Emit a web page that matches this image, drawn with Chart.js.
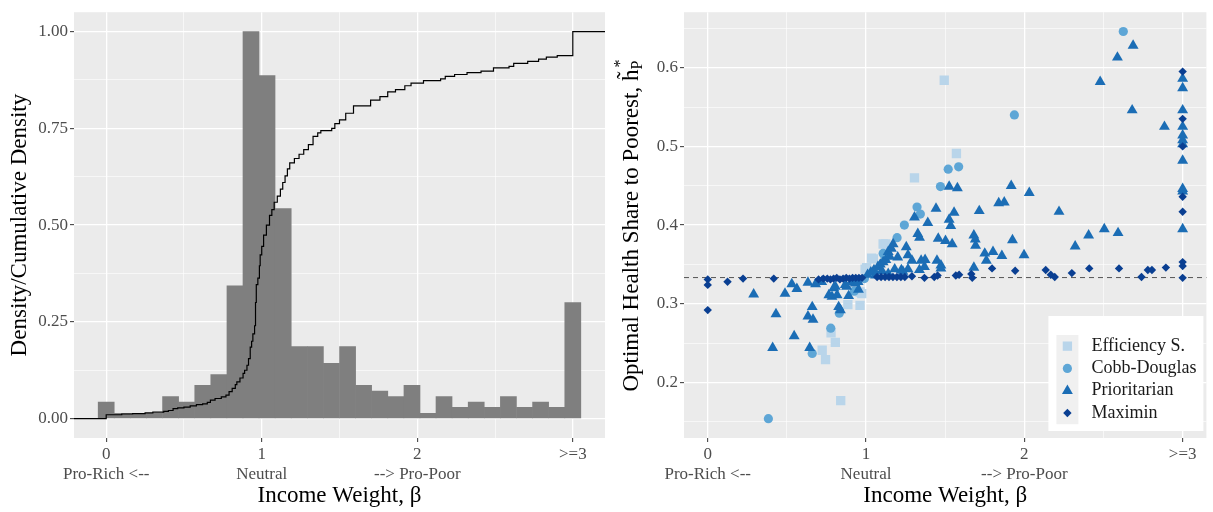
<!DOCTYPE html>
<html>
<head>
<meta charset="utf-8">
<script src="https://cdn.jsdelivr.net/npm/chart.js@4.4.1/dist/chart.umd.min.js"></script>
<style>
  html, body { margin: 0; padding: 0; background: #fff; }
  #wrap { position: relative; width: 1213px; height: 512px; }
  #left { position: absolute; left: 0; top: 0; width: 605px; height: 512px; }
  #right { position: absolute; left: 605px; top: 0; width: 608px; height: 512px; }
</style>
</head>
<body>
<div id="wrap">
  <div id="left"><canvas id="histChart"></canvas></div>
  <div id="right"><canvas id="shareChart"></canvas></div>
</div>
<script>
// --- shared axis ticks (income weight beta) ---
const betaTicks = [0, 1, 2, 3];
const betaLabels = [['0', 'Pro-Rich <--'], ['1', 'Neutral'], ['2', '--> Pro-Poor'], ['>=3']];
const betaMinor = [0.5, 1.5, 2.5];

// --- left panel: histogram (scaled so the tallest bin = 1) + cumulative density ---
const binCenters = [0, 0.103, 0.207, 0.310, 0.414, 0.517, 0.621, 0.724, 0.828, 0.931,
  1.034, 1.138, 1.241, 1.345, 1.448, 1.552, 1.655, 1.759, 1.862, 1.966,
  2.069, 2.172, 2.276, 2.379, 2.483, 2.586, 2.690, 2.793, 2.897, 3.000];
const binDensity = [0.043, 0.014, 0.014, 0.014, 0.057, 0.043, 0.086, 0.114, 0.343, 1.000,
  0.886, 0.543, 0.186, 0.186, 0.143, 0.186, 0.086, 0.071, 0.057, 0.086,
  0.014, 0.057, 0.029, 0.043, 0.029, 0.057, 0.029, 0.043, 0.029, 0.300];
const ecdfX = [-0.5, 0, 0.10, 0.17, 0.25, 0.30, 0.37, 0.40, 0.43, 0.46, 0.50, 0.54, 0.58, 0.62, 0.65,
  0.67, 0.70, 0.74, 0.77, 0.79, 0.81, 0.83, 0.84, 0.86, 0.88, 0.89, 0.905, 0.915, 0.926, 0.935,
  0.943, 0.954, 0.960, 0.965, 0.975, 0.985, 0.99, 1.0, 1.012, 1.03, 1.05, 1.065, 1.08, 1.10, 1.12,
  1.135, 1.15, 1.165, 1.18, 1.21, 1.24, 1.27, 1.30, 1.33, 1.36, 1.38, 1.45, 1.47, 1.50, 1.54,
  1.59, 1.70, 1.76, 1.81, 1.86, 1.92, 1.96, 2.04, 2.15, 2.18, 2.24, 2.32, 2.41, 2.49, 2.59,
  2.62, 2.71, 2.78, 2.83, 2.90, 3.0, 3.5];
const ecdfY = [0, 0.010, 0.012, 0.013, 0.015, 0.017, 0.019, 0.021, 0.026, 0.028, 0.030, 0.033, 0.036, 0.038, 0.042,
  0.048, 0.052, 0.056, 0.061, 0.070, 0.078, 0.088, 0.095, 0.105, 0.117, 0.125, 0.138, 0.155, 0.185, 0.200,
  0.219, 0.240, 0.300, 0.346, 0.363, 0.395, 0.423, 0.445, 0.474, 0.500, 0.525, 0.540, 0.559, 0.575, 0.593,
  0.610, 0.627, 0.645, 0.661, 0.672, 0.683, 0.695, 0.708, 0.729, 0.738, 0.744, 0.750, 0.762, 0.772, 0.789,
  0.808, 0.823, 0.832, 0.844, 0.850, 0.860, 0.867, 0.873, 0.878, 0.884, 0.889, 0.894, 0.898, 0.906, 0.910,
  0.918, 0.923, 0.929, 0.934, 0.938, 1.0, 1.0];
const densTicks = [0, 0.25, 0.5, 0.75, 1];
const densLabels = ['0.00', '0.25', '0.50', '0.75', '1.00'];
const densMinor = [0.125, 0.375, 0.625, 0.875];

// --- right panel: optimal share to poorest by income weight ---
const efficiencyPts = [[0.840,0.177],[0.723,0.241],[0.744,0.229],[0.779,0.263],[0.806,0.251],[0.885,0.299],
  [0.962,0.298],[0.962,0.315],[0.973,0.313],[0.994,0.344],[1.004,0.346],[1.035,0.358],[1.046,0.357],
  [1.108,0.376],[1.125,0.376],[1.306,0.460],[1.494,0.584],[1.571,0.491]];
const cobbDouglasPts = [[0.383,0.154],[0.660,0.237],[0.777,0.269],[0.831,0.288],[0.925,0.316],[0.990,0.332],
  [1.108,0.364],[1.115,0.362],[1.196,0.384],[1.242,0.400],[1.322,0.423],[1.343,0.414],[1.470,0.449],
  [1.519,0.471],[1.585,0.474],[1.937,0.540],[2.625,0.646]];
const prioritarianPts = [[0.290,0.312],[0.431,0.287],[0.410,0.244],[0.488,0.313],[0.531,0.325],[0.563,0.319],
  [0.546,0.259],[0.633,0.327],[0.681,0.325],[0.660,0.296],[0.633,0.284],[0.665,0.280],[0.644,0.244],
  [0.720,0.328],[0.765,0.311],[0.785,0.309],[0.796,0.320],[0.806,0.322],[0.817,0.311],[0.827,0.296],
  [0.838,0.292],[0.869,0.324],[0.877,0.322],[0.890,0.310],[0.910,0.328],[0.931,0.326],[0.950,0.328],
  [0.952,0.318],[1.010,0.337],[1.030,0.340],[1.050,0.343],[1.060,0.336],[1.075,0.347],[1.090,0.350],
  [1.100,0.342],[1.108,0.353],[1.125,0.356],[1.140,0.366],[1.140,0.338],[1.150,0.360],[1.160,0.370],
  [1.171,0.376],[1.181,0.344],[1.200,0.359],[1.223,0.343],[1.233,0.341],[1.254,0.372],[1.265,0.362],
  [1.265,0.344],[1.290,0.355],[1.306,0.410],[1.327,0.389],[1.338,0.384],[1.337,0.343],[1.348,0.355],
  [1.369,0.347],[1.373,0.356],[1.390,0.403],[1.442,0.421],[1.448,0.355],[1.456,0.383],[1.473,0.349],
  [1.473,0.345],[1.502,0.380],[1.525,0.449],[1.525,0.407],[1.535,0.399],[1.544,0.376],[1.556,0.416],
  [1.577,0.447],[1.681,0.387],[1.681,0.346],[1.690,0.382],[1.692,0.374],[1.715,0.418],[1.750,0.364],
  [1.760,0.355],[1.802,0.366],[1.838,0.428],[1.858,0.361],[1.873,0.429],[1.917,0.450],[1.925,0.381],
  [1.998,0.362],[2.031,0.441],[2.219,0.417],[2.321,0.373],[2.406,0.387],[2.505,0.395],[2.592,0.390],
  [2.479,0.582],[2.588,0.613],[2.687,0.628],[2.681,0.546],[2.885,0.525],
  [3,0.586],[3,0.574],[3,0.546],[3,0.525],[3,0.514],[3,0.508],[3,0.503],[3,0.482],[3,0.446],[3,0.443],[3,0.395]];
const maximinPts = [[0,0.331],[0,0.324],[0,0.292],[0.125,0.328],[0.223,0.332],[0.417,0.332],
  [0.700,0.331],[0.730,0.332],[0.755,0.332],[0.775,0.331],[0.795,0.332],[0.815,0.333],[0.835,0.331],
  [0.855,0.332],[0.875,0.333],[0.895,0.332],[0.915,0.333],[0.935,0.333],[0.955,0.333],[0.975,0.333],
  [1.070,0.334],[1.095,0.334],[1.120,0.334],[1.145,0.334],[1.170,0.334],[1.195,0.334],[1.220,0.334],
  [1.245,0.334],[1.290,0.335],[1.369,0.333],[1.431,0.334],[1.452,0.336],[1.567,0.336],[1.588,0.337],
  [1.665,0.338],[1.671,0.333],[1.796,0.345],[1.942,0.342],[2.135,0.343],[2.167,0.337],[2.192,0.334],
  [2.300,0.339],[2.410,0.345],[2.598,0.345],[2.740,0.334],[2.780,0.343],[2.806,0.343],[2.894,0.346],
  [3,0.595],[3,0.535],[3,0.500],[3,0.436],[3,0.417],[3,0.353],[3,0.348],[3,0.333]];
const shareTicks = [0.2, 0.3, 0.4, 0.5, 0.6];
const shareLabels = ['0.2', '0.3', '0.4', '0.5', '0.6'];
const shareMinor = [0.15, 0.25, 0.35, 0.45, 0.55, 0.65];
const equalShare = 1 / 3;

const SERIF = "'Liberation Serif', 'Times New Roman', serif";

// grey ggplot-like panel
const panelBg = {
  id: 'panelBg',
  beforeDraw(chart) {
    const { ctx, chartArea: a } = chart;
    ctx.save();
    ctx.fillStyle = '#EBEBEB';
    ctx.fillRect(a.left, a.top, a.right - a.left, a.bottom - a.top);
    ctx.restore();
  }
};

// linear axis with major (labelled) and minor (unlabelled) grid lines
function gridScale(majors, labels, minors, opts) {
  const all = majors.concat(minors).sort((a, b) => a - b);
  const majorIdx = v => majors.findIndex(m => Math.abs(m - v) < 1e-9);
  const isMajor = c => c.tick && majorIdx(c.tick.value) >= 0;
  return {
    type: 'linear',
    position: opts.position,
    min: opts.min,
    max: opts.max,
    offset: false,
    afterBuildTicks: s => { s.ticks = all.map(v => ({ value: v })); },
    afterFit: s => {
      if (opts.position === 'bottom') s.height = opts.size; else s.width = opts.size;
    },
    border: { display: false },
    grid: {
      offset: false,
      color: '#ffffff',
      lineWidth: c => isMajor(c) ? 1.3 : 0.6,
      drawTicks: true,
      tickLength: 4,
      tickWidth: 1,
      tickColor: c => isMajor(c) ? '#333333' : 'rgba(0,0,0,0)'
    },
    ticks: {
      autoSkip: false,
      maxRotation: 0,
      minRotation: 0,
      padding: 2,
      color: '#4d4d4d',
      font: { family: SERIF, size: 17 },
      callback: v => { const i = majorIdx(v); return i < 0 ? '' : labels[i]; }
    },
    title: opts.title
  };
}

const xTitle = {
  display: true,
  text: 'Income Weight, \u03B2',
  color: '#000',
  font: { family: SERIF, size: 23 },
  padding: { top: 0, bottom: 2 }
};

new Chart(document.getElementById('histChart'), {
  type: 'bar',
  data: {
    datasets: [
      {
        type: 'line',
        label: 'Cumulative density',
        data: ecdfX.map((x, i) => ({ x: x, y: ecdfY[i] })),
        stepped: 'before',
        borderColor: '#000',
        borderWidth: 1.2,
        pointRadius: 0,
        fill: false,
        order: 0
      },
      {
        type: 'bar',
        label: 'Density',
        data: binCenters.map((x, i) => ({ x: x, y: binDensity[i] })),
        backgroundColor: '#7f7f7f',
        borderWidth: 0,
        barPercentage: 1,
        categoryPercentage: 1,
        order: 1
      }
    ]
  },
  options: {
    responsive: true,
    maintainAspectRatio: false,
    animation: false,
    events: [],
    layout: { padding: { top: 7, right: 0, bottom: 0, left: 0 } },
    plugins: { legend: { display: false }, tooltip: { enabled: false } },
    scales: {
      x: gridScale(betaTicks, betaLabels, betaMinor, { position: 'bottom', min: -0.207, max: 3.207, size: 74, title: xTitle }),
      y: gridScale(densTicks, densLabels, densMinor, {
        position: 'left', min: -0.05, max: 1.05, size: 74,
        title: {
          display: true,
          text: 'Density/Cumulative Density',
          color: '#000',
          font: { family: SERIF, size: 23 },
          padding: { top: 6, bottom: 0 }
        }
      })
    }
  },
  plugins: [panelBg]
});

// dashed reference line at an equal (1/3) share
const refLine = {
  id: 'refLine',
  beforeDatasetsDraw(chart) {
    const { ctx, chartArea: a } = chart;
    const y = chart.scales.y.getPixelForValue(equalShare);
    ctx.save();
    ctx.strokeStyle = '#555555';
    ctx.lineWidth = 1;
    ctx.setLineDash([5, 4]);
    ctx.beginPath();
    ctx.moveTo(a.left, y);
    ctx.lineTo(a.right, y);
    ctx.stroke();
    ctx.restore();
  }
};

// y title with sub- and superscript
const shareTitle = {
  id: 'shareTitle',
  afterDraw(chart) {
    const { ctx, chartArea: a } = chart;
    const cy = (a.top + a.bottom) / 2;
    const big = '23px ' + SERIF;
    const small = '16px ' + SERIF;
    const main = 'Optimal Health Share to Poorest, h\u0303';
    ctx.save();
    ctx.font = big;
    const wMain = ctx.measureText(main).width;
    ctx.font = small;
    const wSub = ctx.measureText('P').width;
    const total = wMain + wSub + 2;
    ctx.translate(27, cy);
    ctx.rotate(-Math.PI / 2);
    ctx.fillStyle = '#000';
    ctx.textBaseline = 'middle';
    ctx.textAlign = 'left';
    ctx.font = big;
    ctx.fillText(main, -total / 2, 0);
    ctx.font = small;
    ctx.fillText('P', -total / 2 + wMain, 6);
    ctx.fillText('*', -total / 2 + wMain + 2, -11);
    ctx.restore();
  }
};

// legend box inside the panel, bottom right
const legendBox = {
  id: 'legendBox',
  afterDatasetsDraw(chart) {
    const { ctx, chartArea: a } = chart;
    const w = 155, h = 115;
    const x0 = a.right - 3 - w, y0 = a.bottom - 7 - h;
    const rowH = 22.3, keyX = x0 + 8, keyW = 22, keyY = y0 + 19;
    ctx.save();
    ctx.fillStyle = '#ffffff';
    ctx.fillRect(x0, y0, w, h);
    ctx.fillStyle = '#f0f0f0';
    ctx.fillRect(keyX, keyY, keyW, rowH * 4);
    chart.data.datasets.forEach((ds, i) => {
      const cy = keyY + rowH * (i + 0.5);
      ctx.fillStyle = ds.backgroundColor;
      Chart.helpers.drawPoint(ctx, { pointStyle: ds.pointStyle, radius: ds.pointRadius, rotation: 0, borderWidth: 0 }, keyX + keyW / 2, cy);
      ctx.fillStyle = '#1a1a1a';
      ctx.font = '18px ' + SERIF;
      ctx.textBaseline = 'middle';
      ctx.textAlign = 'left';
      ctx.fillText(ds.label, x0 + 43, cy);
    });
    ctx.restore();
  }
};

const toXY = pts => pts.map(p => ({ x: p[0], y: p[1] }));

new Chart(document.getElementById('shareChart'), {
  type: 'scatter',
  data: {
    datasets: [
      { label: 'Efficiency S.', data: toXY(efficiencyPts), pointStyle: 'rect', pointRadius: 6.6, backgroundColor: '#B9D5EA', borderWidth: 0, order: 3 },
      { label: 'Cobb-Douglas', data: toXY(cobbDouglasPts), pointStyle: 'circle', pointRadius: 4.6, backgroundColor: '#5EA6D6', borderWidth: 0, order: 2 },
      { label: 'Prioritarian', data: toXY(prioritarianPts), pointStyle: 'triangle', pointRadius: 6.3, backgroundColor: '#1B6DB5', borderWidth: 0, order: 1 },
      { label: 'Maximin', data: toXY(maximinPts), pointStyle: 'rectRot', pointRadius: 4.2, backgroundColor: '#0A3F92', borderWidth: 0, order: 0 }
    ]
  },
  options: {
    responsive: true,
    maintainAspectRatio: false,
    animation: false,
    events: [],
    layout: { padding: { top: 7, right: 1, bottom: 0, left: 0 } },
    plugins: { legend: { display: false }, tooltip: { enabled: false } },
    scales: {
      x: gridScale(betaTicks, betaLabels, betaMinor, { position: 'bottom', min: -0.15, max: 3.15, size: 74, title: xTitle }),
      y: gridScale(shareTicks, shareLabels, shareMinor, { position: 'left', min: 0.1295, max: 0.6705, size: 79, title: { display: false } })
    }
  },
  plugins: [panelBg, refLine, legendBox, shareTitle]
});
</script>
</body>
</html>
